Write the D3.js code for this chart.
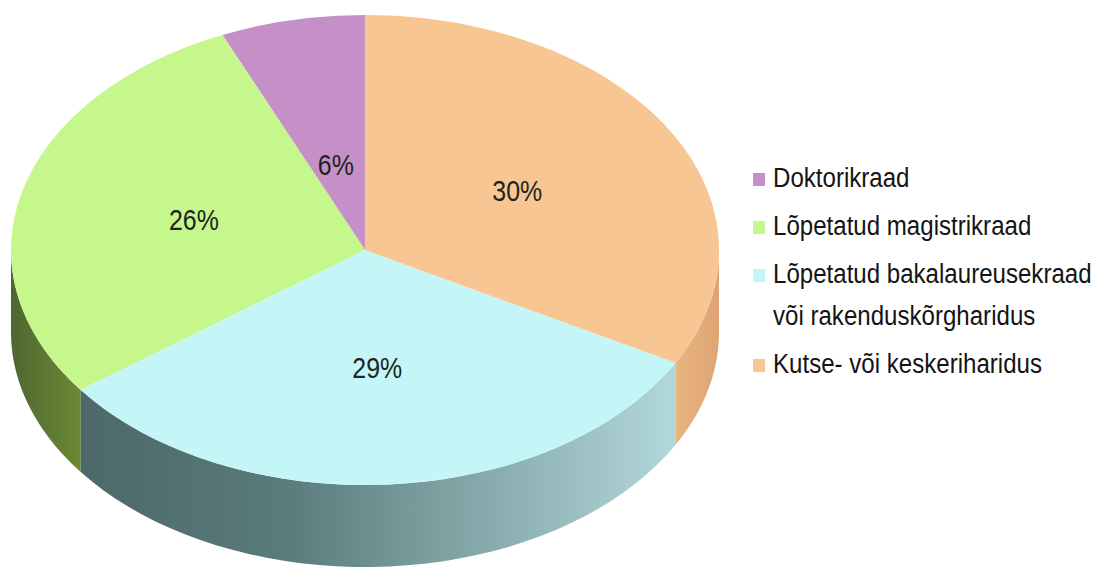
<!DOCTYPE html>
<html>
<head>
<meta charset="utf-8">
<script src="https://cdn.jsdelivr.net/npm/d3@7"></script>
<style>
  body { margin: 0; background: #fff; }
  text { font-family: "Liberation Sans", Arial, sans-serif; }
</style>
</head>
<body>
<div id="chart"></div>
<script>
// legend order (pie is drawn counter-clockwise from 12 o'clock in this order)
const categories = [
  'Doktorikraad',
  'Lõpetatud magistrikraad',
  'Lõpetatud bakalaureusekraad|või rakenduskõrgharidus',
  'Kutse- või keskeriharidus'
];
const shares = [6, 26, 29, 30];
const topColors = ['#c58fc8', '#c6f78c', '#c4f6f7', '#f8c692'];
const sideColors = [
  ['#9a6aa0', '#9a6aa0'],
  ['#4f6631', '#6c8a34'],
  ['#4d6868', '#b3d8da'],
  ['#e9b47f', '#dea474']
];

const width = 1095, height = 570;
const cx = 365, cy = 250, rx = 354, ry = 235, depth = 82;
const squeeze = 0.86; // the original uses a narrow font

const svg = d3.select('#chart').append('svg')
  .attr('width', width)
  .attr('height', height);

const defs = svg.append('defs');

const pie = d3.pie().sort(null).value(d => d).startAngle(0).endAngle(-2 * Math.PI);
// normalise angles to [0, 2pi], clockwise from top
const slices = pie(shares).map((d, i) => {
  const a0 = d.endAngle + 2 * Math.PI, a1 = d.startAngle + 2 * Math.PI;
  return { i, value: d.value, a0: a0, a1: a1 };
});

const ex = a => cx + rx * Math.sin(a);
const ey = a => cy - ry * Math.cos(a);

// side walls: only the front half of the ellipse is visible
const sides = svg.append('g');
slices.forEach(s => {
  const lo = Math.max(s.a0, Math.PI / 2), hi = Math.min(s.a1, 3 * Math.PI / 2);
  if (hi <= lo) return;
  const steps = d3.range(0, 41).map(k => lo + (hi - lo) * k / 40);
  const pts = steps.map(a => [ex(a), ey(a)])
    .concat(steps.slice().reverse().map(a => [ex(a), ey(a) + depth]));

  const gid = 'side' + s.i;
  const g = defs.append('linearGradient').attr('id', gid)
    .attr('gradientUnits', 'userSpaceOnUse')
    .attr('x1', d3.min(pts, p => p[0])).attr('x2', d3.max(pts, p => p[0]))
    .attr('y1', 0).attr('y2', 0);
  g.append('stop').attr('offset', '0%').attr('stop-color', sideColors[s.i][0]);
  if (s.i === 2) g.append('stop').attr('offset', '35%').attr('stop-color', '#5a7c7c');
  g.append('stop').attr('offset', '100%').attr('stop-color', sideColors[s.i][1]);

  sides.append('path')
    .attr('d', d3.line()(pts) + 'Z')
    .attr('fill', `url(#${gid})`);
});

// top face: d3.arc on a circle, squashed into the ellipse
const arc = d3.arc().innerRadius(0).outerRadius(rx);
const topFace = svg.append('g')
  .attr('transform', `translate(${cx},${cy}) scale(1,${ry / rx})`);
topFace.selectAll('path')
  .data(slices)
  .join('path')
  .attr('d', d => arc({ startAngle: d.a0, endAngle: d.a1 }))
  .attr('fill', d => topColors[d.i]);

// percent labels
const labelPos = d => {
  const m = (d.a0 + d.a1) / 2, narrow = d.a1 - d.a0 < 0.6;
  return [cx + rx * (narrow ? 0.4 : 0.5) * Math.sin(m),
          cy - ry * (narrow ? 0.37 : 0.5) * Math.cos(m)];
};
svg.append('g').selectAll('text')
  .data(slices)
  .join('text')
  .attr('transform', d => `translate(${labelPos(d)}) scale(${squeeze},1)`)
  .attr('dy', '0.36em')
  .attr('text-anchor', 'middle')
  .attr('font-size', 29)
  .attr('fill', '#1e2420')
  .text(d => d.value + '%');

// legend
const rowY = [187, 235, 283, 373];
const legend = svg.append('g');
categories.forEach((c, i) => {
  legend.append('rect')
    .attr('x', 753).attr('y', rowY[i] - 14)
    .attr('width', 12).attr('height', 13)
    .attr('fill', topColors[i]);
  const t = legend.append('text')
    .attr('transform', `translate(773,${rowY[i]}) scale(${squeeze},1)`)
    .attr('font-size', 28)
    .attr('fill', '#141414');
  c.split('|').forEach((line, j) => {
    t.append('tspan').attr('x', 0).attr('dy', j ? 42 : 0).text(line);
  });
});
</script>
</body>
</html>
